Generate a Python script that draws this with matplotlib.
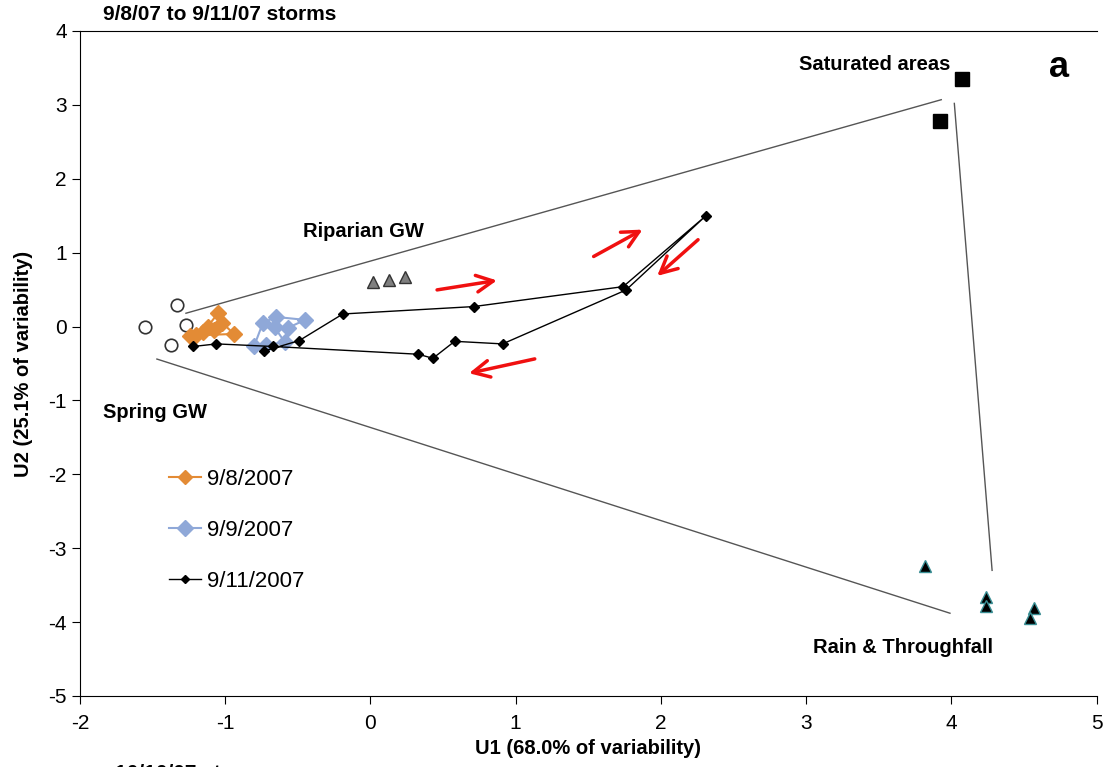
import matplotlib
matplotlib.use('Agg')
import matplotlib.pyplot as plt

plt.rcParams['font.family'] = ['Liberation Sans', 'DejaVu Sans']
plt.rcParams['axes.unicode_minus'] = False

# end members
spring_x = [-1.33, -1.55, -1.27, -1.37]
spring_y = [0.29, 0.00, 0.02, -0.25]
riparian_x = [0.02, 0.13, 0.24]
riparian_y = [0.60, 0.63, 0.67]
saturated_x = [4.07, 3.92]
saturated_y = [3.35, 2.78]
rain_x = [3.82, 4.24, 4.24, 4.57, 4.54]
rain_y = [-3.24, -3.66, -3.78, -3.81, -3.94]

# storm samples
s0908_x = [-1.24, -1.12, -1.05, -1.02, -0.94, -1.20, -1.08, -1.15]
s0908_y = [-0.13, 0.00, 0.18, 0.05, -0.10, -0.12, -0.05, -0.07]
s0909_x = [-0.80, -0.74, -0.65, -0.45, -0.57, -0.66, -0.59, -0.72]
s0909_y = [-0.26, 0.05, 0.13, 0.09, -0.02, -0.01, -0.21, -0.25]
s0911_x = [-0.73, -0.49, -0.19, 0.71, 1.74, 2.31, 1.76, 0.91, 0.58, 0.43, 0.33, -0.67, -1.06, -1.22]
s0911_y = [-0.33, -0.19, 0.17, 0.27, 0.54, 1.50, 0.495, -0.235, -0.20, -0.43, -0.375, -0.27, -0.235, -0.27]

# mixing hull edges
hull_x = [[-1.27, 3.93], [-1.47, 3.99], [4.02, 4.28]]
hull_y = [[0.18, 3.07], [-0.44, -3.88], [3.02, -3.30]]

# flow direction arrows (start -> end)
arrows = [((0.44, 0.49), (0.89, 0.63)),
          ((1.52, 0.93), (1.89, 1.33)),
          ((2.27, 1.20), (1.96, 0.66)),
          ((1.15, -0.43), (0.66, -0.64))]

fig = plt.figure(figsize=(11.1, 7.67), dpi=100)
ax = fig.add_axes([0.072, 0.0926, 0.916, 0.867])

for hx, hy in zip(hull_x, hull_y):
    ax.plot(hx, hy, color='#555555', lw=1)

ax.plot(spring_x, spring_y, 'o', ms=9, mfc='white', mec='#333333', mew=1.2, ls='none')
ax.plot(riparian_x, riparian_y, '^', ms=9, mfc='#7f7f7f', mec='#333333', ls='none')
ax.plot(saturated_x, saturated_y, 's', ms=9.5, color='black', ls='none')
ax.plot(rain_x, rain_y, '^', ms=9, mfc='black', mec='#3a8f95', mew=1, ls='none')

ax.plot(s0908_x, s0908_y, '-D', color='#E38B35', ms=8, lw=1.5, label='9/8/2007')
ax.plot(s0909_x, s0909_y, '-D', color='#8FA8D8', ms=8.5, lw=1.5, label='9/9/2007')
ax.plot(s0911_x, s0911_y, '-D', color='black', ms=5, lw=1, label='9/11/2007')

for (x0, y0), (x1, y1) in arrows:
    ax.annotate('', xy=(x1, y1), xytext=(x0, y0),
                arrowprops=dict(arrowstyle='->', color='#f01010', lw=2.5, mutation_scale=30))

lab = dict(fontsize=14.5, fontweight='bold', ha='center', va='center')
ax.text(-0.045, 1.28, 'Riparian GW', **lab)
ax.text(-1.48, -1.16, 'Spring GW', **lab)
ax.text(3.47, 3.55, 'Saturated areas', **lab)
ax.text(3.67, -4.35, 'Rain & Throughfall', **lab)
ax.text(4.74, 3.51, 'a', fontsize=26, fontweight='bold', ha='center', va='center')

ax.set_xlim(-2, 5)
ax.set_ylim(-5, 4)
ax.set_xticks(range(-2, 6))
ax.set_yticks(range(-5, 5))
ax.tick_params(labelsize=15, direction='out', length=6)
ax.tick_params(axis='x', pad=7)
ax.spines['right'].set_visible(False)
ax.set_xlabel('U1 (68.0% of variability)', fontsize=14.5, fontweight='bold', labelpad=4)
ax.set_ylabel('U2 (25.1% of variability)', fontsize=14.5, fontweight='bold', labelpad=11)

ax.legend(loc='upper left', bbox_to_anchor=(0.068, 0.372), frameon=False, fontsize=16,
          labelspacing=1.35, handlelength=1.45, handletextpad=0.25, markerscale=0.9)

fig.text(103 / 1110, 1 - 15 / 767, '9/8/07 to 9/11/07 storms', fontsize=15, fontweight='bold', va='center')
fig.text(115 / 1110, -0.008, '10/10/07 storms', fontsize=15, fontweight='bold', va='center')

fig.savefig('out.png', dpi=100)
